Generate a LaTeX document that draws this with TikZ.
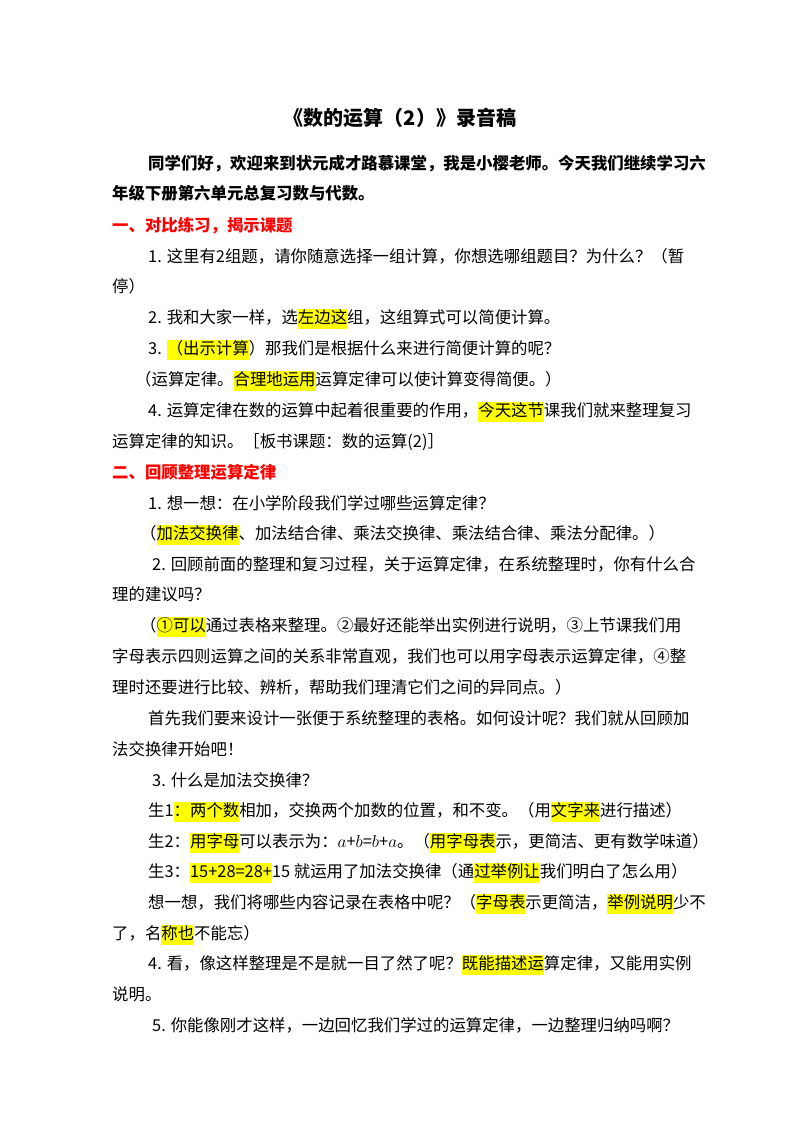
\documentclass[tikz,border=0pt]{standalone}
\usepackage{fontspec}
\setmainfont{Noto Sans CJK SC}
\setlength\fboxsep{0pt}
\definecolor{hly}{RGB}{255,255,0}
\definecolor{hdred}{RGB}{255,0,0}
\newcommand\hlt[1]{\colorbox{hly}{\strut #1}}
\begin{document}
\begin{tikzpicture}[x=1pt,y=-1pt,
  ln/.style={anchor=base west,inner sep=0pt,font=\fontsize{16.4}{20}\selectfont},
  bd/.style={ln,font=\fontsize{16.4}{20}\selectfont\bfseries},
  hd/.style={ln,text=hdred,font=\fontsize{16.4}{20}\selectfont\bfseries}]
\useasboundingbox[fill=white] (0,0) rectangle (800,1132);
\node[anchor=base,inner sep=0pt,font=\fontsize{20}{24}\selectfont\bfseries] (t) at (400,125) {《数的运算（2）》录音稿};
\node[bd] (a1) at (148,169) {同学们好，欢迎来到状元成才路慕课堂，我是小樱老师。今天我们继续学习六};
\node[bd] (a2) at (112,199) {年级下册第六单元总复习数与代数。};
\node[hd] (h1) at (112,231) {一、对比练习，揭示课题};
\node[ln] (b1) at (148,262) {1. 这里有2组题，请你随意选择一组计算，你想选哪组题目？为什么？（暂};
\node[ln] (b2) at (112,292) {停）};
\node[ln] (b3) at (148,323) {2. 我和大家一样，选\hlt{左边这}组，这组算式可以简便计算。};
\node[ln] (b4) at (148,354) {3. \hlt{（出示计算}）那我们是根据什么来进行简便计算的呢？};
\node[ln] (b5) at (135,385) {（运算定律。\hlt{合理地运用}运算定律可以使计算变得简便。）};
\node[ln] (b6) at (148,416) {4. 运算定律在数的运算中起着很重要的作用，\hlt{今天这节}课我们就来整理复习};
\node[ln] (b7) at (112,447) {运算定律的知识。［板书课题：数的运算(2)］};
\node[hd] (h2) at (112,478) {二、回顾整理运算定律};
\node[ln] (c1) at (148,509) {1. 想一想：在小学阶段我们学过哪些运算定律？};
\node[ln] (c2) at (140,539) {（\hlt{加法交换律}、加法结合律、乘法交换律、乘法结合律、乘法分配律。）};
\node[ln] (c3) at (152,570) {2. 回顾前面的整理和复习过程，关于运算定律，在系统整理时，你有什么合};
\node[ln] (c4) at (112,600) {理的建议吗？};
\node[ln] (c5) at (140,631) {（\hlt{①可以}通过表格来整理。②最好还能举出实例进行说明，③上节课我们用};
\node[ln] (c6) at (112,662) {字母表示四则运算之间的关系非常直观，我们也可以用字母表示运算定律，④整};
\node[ln] (c7) at (112,693) {理时还要进行比较、辨析，帮助我们理清它们之间的异同点。）};
\node[ln] (c8) at (148,724) {首先我们要来设计一张便于系统整理的表格。如何设计呢？我们就从回顾加};
\node[ln] (c9) at (112,755) {法交换律开始吧！};
\node[ln] (d1) at (152,786) {3. 什么是加法交换律？};
\node[ln] (d2) at (148,816) {生1\hlt{：两个数}相加，交换两个加数的位置，和不变。（用\hlt{文字来}进行描述）};
\node[ln] (d3) at (148,847) {生2：\hlt{用字母}可以表示为：$a$+$b$=$b$+$a$。（\hlt{用字母表}示，更简洁、更有数学味道）};
\node[ln] (d4) at (148,877) {生3：\hlt{15+28=28+}15 就运用了加法交换律（通\hlt{过举例让}我们明白了怎么用）};
\node[ln] (d5) at (148,908) {想一想，我们将哪些内容记录在表格中呢？（\hlt{字母表}示更简洁，\hlt{举例说明}少不};
\node[ln] (d6) at (112,939) {了，名\hlt{称也}不能忘）};
\node[ln] (d7) at (148,969) {4. 看，像这样整理是不是就一目了然了呢？\hlt{既能描述运}算定律，又能用实例};
\node[ln] (d8) at (112,1000) {说明。};
\node[ln] (d9) at (152,1031) {5. 你能像刚才这样，一边回忆我们学过的运算定律，一边整理归纳吗啊？};
\end{tikzpicture}
\end{document}
